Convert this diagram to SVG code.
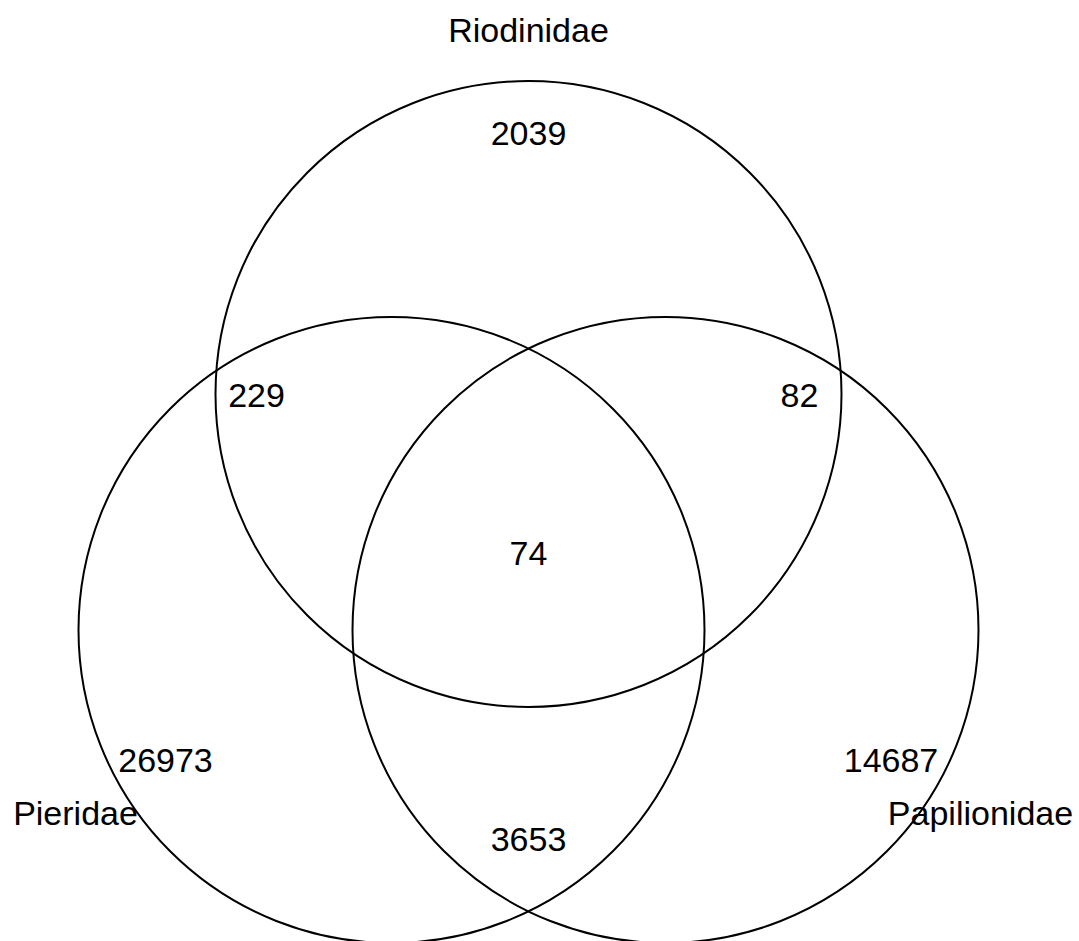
<svg xmlns="http://www.w3.org/2000/svg" width="1079" height="941" viewBox="0 0 1079 941">
<style>
.c{fill:none;stroke:#000;stroke-width:2}
text{font-family:"Liberation Sans",Arial,sans-serif;font-size:34px;fill:#000;text-anchor:middle}
</style>
<rect width="1079" height="941" fill="#fff"/>
<g id="Riodinidae"><circle class="c" cx="528.5" cy="394" r="313"/><text x="528.5" y="42">Riodinidae</text></g>
<g id="Pieridae"><circle class="c" cx="391.5" cy="630" r="313"/><text x="75.5" y="825">Pieridae</text></g>
<g id="Papilionidae"><circle class="c" cx="665.5" cy="630" r="313"/><text x="980.5" y="825">Papilionidae</text></g>
<g id="counts">
<text x="528.5" y="145">2039</text>
<text x="256.5" y="407">229</text>
<text x="799.5" y="407">82</text>
<text x="528.5" y="565">74</text>
<text x="165.5" y="772">26973</text>
<text x="891" y="772">14687</text>
<text x="528.5" y="851">3653</text>
</g>
<g id="connectors"/>
</svg>
